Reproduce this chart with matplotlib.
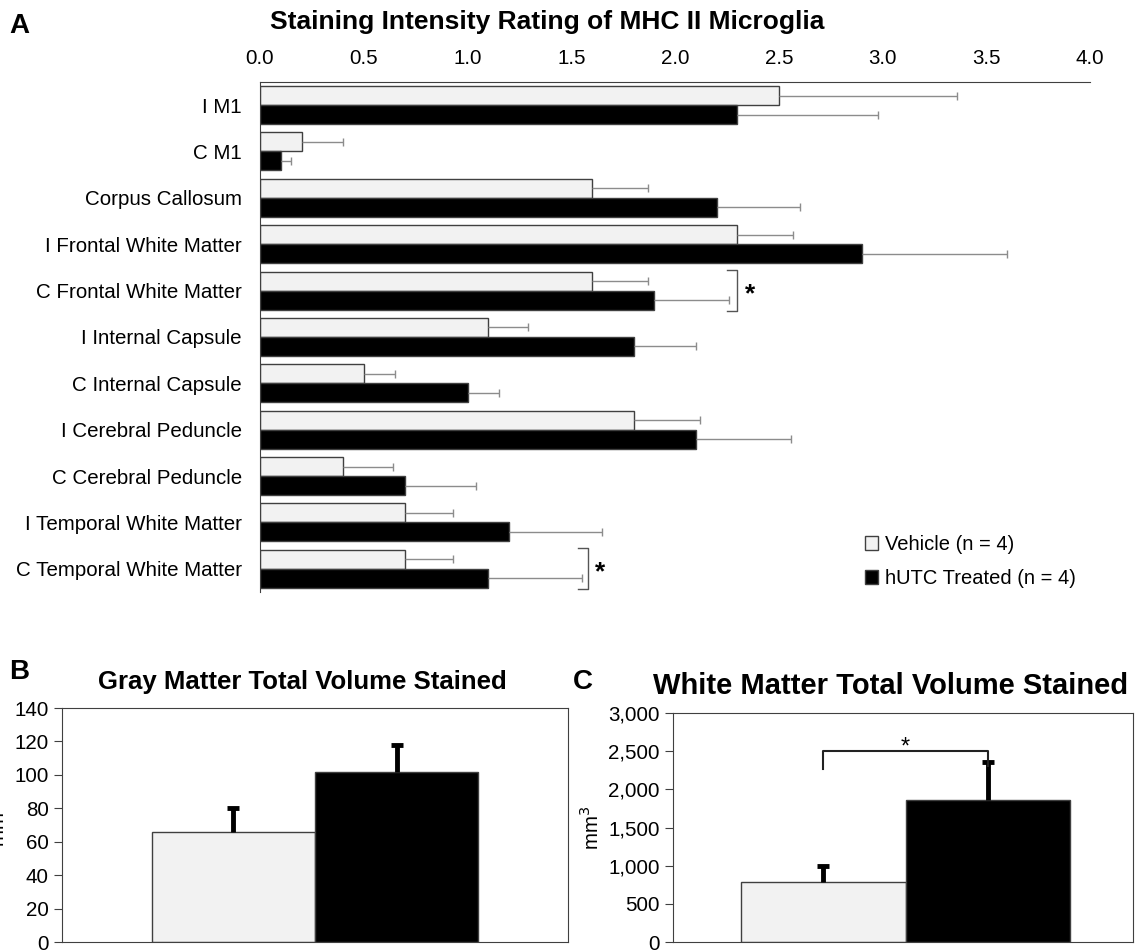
import numpy as np
import matplotlib.pyplot as plt
from matplotlib.patches import Patch
from matplotlib.ticker import FuncFormatter

plt.rcParams['font.family'] = ['Liberation Sans', 'DejaVu Sans']

# panel A data
regions = ["I M1", "C M1", "Corpus Callosum", "I Frontal White Matter",
           "C Frontal White Matter", "I Internal Capsule", "C Internal Capsule",
           "I Cerebral Peduncle", "C Cerebral Peduncle", "I Temporal White Matter",
           "C Temporal White Matter"]
vehicle = [2.5, 0.2, 1.6, 2.3, 1.6, 1.1, 0.5, 1.8, 0.4, 0.7, 0.7]
vehicle_err = [0.86, 0.2, 0.27, 0.27, 0.27, 0.19, 0.15, 0.32, 0.24, 0.23, 0.23]
treated = [2.3, 0.1, 2.2, 2.9, 1.9, 1.8, 1.0, 2.1, 0.7, 1.2, 1.1]
treated_err = [0.68, 0.05, 0.4, 0.7, 0.36, 0.3, 0.15, 0.46, 0.34, 0.45, 0.45]
sig_rows = [4, 10]
sig_x = [2.3, 1.58]

# panels B and C
gray_means = [66, 102]
gray_err = [14, 16]
white_means = [790, 1860]
white_err = [210, 500]

light = "#f2f2f2"
edge = "#404040"

fig = plt.figure(figsize=(11.39, 9.5), dpi=100)

# ---- A ----
axA = fig.add_axes([0.2283, 0.3768, 0.7287, 0.537])
y = np.arange(len(regions))
h = 0.41
axA.barh(y - h/2, vehicle, height=h, color=light, edgecolor=edge, lw=1)
axA.barh(y + h/2, treated, height=h, color="black", edgecolor=edge, lw=1)
for vals, errs, pos in [(vehicle, vehicle_err, y - h/2), (treated, treated_err, y + h/2)]:
    ends = np.add(vals, errs)
    axA.hlines(pos, vals, ends, color="#8c8c8c", lw=1)
    axA.plot(ends, pos, ls="none", marker="|", ms=6, mew=1, color="#8c8c8c")
for r, sx in zip(sig_rows, sig_x):
    axA.plot([sx - 0.05, sx, sx, sx - 0.05], [r - h - 0.03, r - h - 0.03, r + h + 0.03, r + h + 0.03],
             color="#555555", lw=1)
    axA.text(sx + 0.035, r + 0.08, "*", fontsize=19, fontweight="bold", va="center", ha="left")
axA.set_xlim(0, 4)
axA.set_ylim(10.5, -0.5)
axA.set_yticks(y)
axA.set_yticklabels(regions)
axA.set_xticks(np.arange(0, 4.01, 0.5))
axA.xaxis.set_major_formatter(FuncFormatter(lambda v, p: f"{v:.1f}"))
axA.xaxis.tick_top()
axA.tick_params(axis="x", length=0, labelsize=14.8, pad=10)
axA.tick_params(axis="y", length=0, labelsize=14.8, pad=13)
axA.spines["right"].set_visible(False)
axA.spines["bottom"].set_visible(False)
axA.spines["top"].set_color(edge)
axA.spines["left"].set_color(edge)
axA.set_title("Staining Intensity Rating of MHC II Microglia", fontsize=19,
              fontweight="bold", pad=38, x=0.346)
leg = axA.legend(handles=[Patch(facecolor=light, edgecolor=edge, label="Vehicle (n = 4)"),
                          Patch(facecolor="black", edgecolor=edge, label="hUTC Treated (n = 4)")],
                 loc="lower right", bbox_to_anchor=(1.005, -0.028), frameon=False, fontsize=14.5,
                 handlelength=0.65, handleheight=0.65, handletextpad=0.35, labelspacing=0.75)
fig.text(0.008, 0.965, "A", fontsize=20, fontweight="bold")

# ---- B and C ----
def volume_panel(rect, means, errs, ymax, step, title, tsize, comma):
    ax = fig.add_axes(rect)
    xs = [-0.5, 0.5]
    ax.bar(xs, means, width=1, color=[light, "black"], edgecolor=edge, lw=1)
    tops = np.add(means, errs)
    ax.vlines(xs, means, tops, color="black", lw=3.5)
    ax.plot(xs, tops, ls="none", marker="_", ms=9, mew=3.5, color="black")
    ax.set_ylim(0, ymax)
    ax.set_yticks(np.arange(0, ymax + 1, step))
    if comma:
        ax.yaxis.set_major_formatter(FuncFormatter(lambda v, p: f"{v:,.0f}"))
    ax.set_xticks([])
    ax.tick_params(axis="y", labelsize=14.8, length=6, color=edge)
    for s in ax.spines.values():
        s.set_color(edge)
    ax.set_ylabel("mm$^3$", fontsize=14.8, labelpad=4)
    ax.set_title(title, fontsize=tsize, fontweight="bold", pad=14)
    return ax

axB = volume_panel([0.0544, 0.0084, 0.4443, 0.2463], gray_means, gray_err, 140, 20,
                   "Gray Matter Total Volume Stained", 18.5, False)
axB.set_xlim(-1.55, 1.55)
axB.title.set_x(0.475)
fig.text(0.008, 0.285, "B", fontsize=20, fontweight="bold")

axC = volume_panel([0.5909, 0.0084, 0.4039, 0.241], white_means, white_err, 3000, 500,
                   "White Matter Total Volume Stained", 21, True)
axC.set_xlim(-1.41, 1.38)
axC.title.set_x(0.472)
axC.plot([-0.5, -0.5, 0.5, 0.5], [2270, 2500, 2500, 2300], color="#222222", lw=1.5)
axC.text(0, 2400, "*", fontsize=17, ha="center", va="bottom")
fig.text(0.503, 0.275, "C", fontsize=20, fontweight="bold")

fig.savefig("out.png", dpi=100)
